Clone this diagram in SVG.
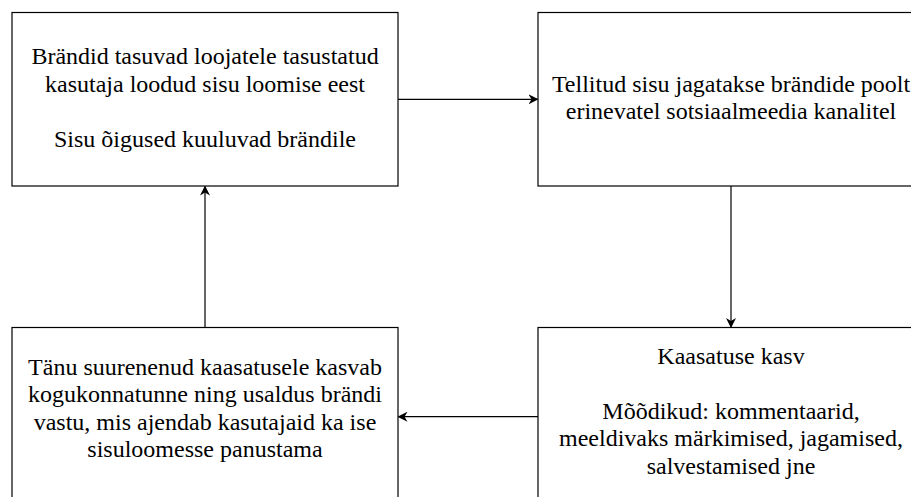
<svg xmlns="http://www.w3.org/2000/svg" width="911" height="497" viewBox="0 0 911 497">
<style>
.box{fill:#fff;stroke:#000;stroke-width:1.2}
.t{font-family:"Liberation Serif","Times New Roman",serif;font-size:24px;fill:#000;text-anchor:middle}
.c{fill:none;stroke:#000;stroke-width:1.2}
</style>
<defs>
<marker id="arr" viewBox="0 0 10 10" refX="9" refY="5" markerWidth="10" markerHeight="10" markerUnits="userSpaceOnUse" orient="auto">
<path d="M0,0 L10,5 L0,10 L3,5 Z" fill="#000"/>
</marker>
</defs>
<rect width="911" height="497" fill="#fff"/>
<g id="node-brands-pay">
<rect class="box" x="12" y="12.5" width="386" height="173.5"/>
<text class="t" x="205" y="64">Brändid tasuvad loojatele tasustatud</text>
<text class="t" x="205" y="91.5">kasutaja loodud sisu loomise eest</text>
<text class="t" x="205" y="147">Sisu õigused kuuluvad brändile</text>
</g>
<g id="node-shared">
<rect class="box" x="538" y="12.5" width="386" height="173.5"/>
<text class="t" x="731" y="91.5">Tellitud sisu jagatakse brändide poolt</text>
<text class="t" x="731" y="119">erinevatel sotsiaalmeedia kanalitel</text>
</g>
<g id="node-engagement">
<rect class="box" x="538" y="327.5" width="386" height="178"/>
<text class="t" x="731" y="363.5">Kaasatuse kasv</text>
<text class="t" x="731" y="418.5">Mõõdikud: kommentaarid,</text>
<text class="t" x="731" y="446">meeldivaks märkimised, jagamised,</text>
<text class="t" x="731" y="473.5">salvestamised jne</text>
</g>
<g id="node-community">
<rect class="box" x="12" y="327.5" width="386" height="178"/>
<text class="t" x="205" y="375">Tänu suurenenud kaasatusele kasvab</text>
<text class="t" x="205" y="402">kogukonnatunne ning usaldus brändi</text>
<text class="t" x="205" y="429.5">vastu, mis ajendab kasutajaid ka ise</text>
<text class="t" x="205" y="457">sisuloomesse panustama</text>
</g>
<g id="connectors">
<line class="c" x1="398" y1="99.3" x2="537.5" y2="99.3" marker-end="url(#arr)"/>
<line class="c" x1="731" y1="186" x2="731" y2="327" marker-end="url(#arr)"/>
<line class="c" x1="538" y1="416.7" x2="398.5" y2="416.7" marker-end="url(#arr)"/>
<line class="c" x1="205" y1="327.5" x2="205" y2="186.5" marker-end="url(#arr)"/>
</g>
</svg>
